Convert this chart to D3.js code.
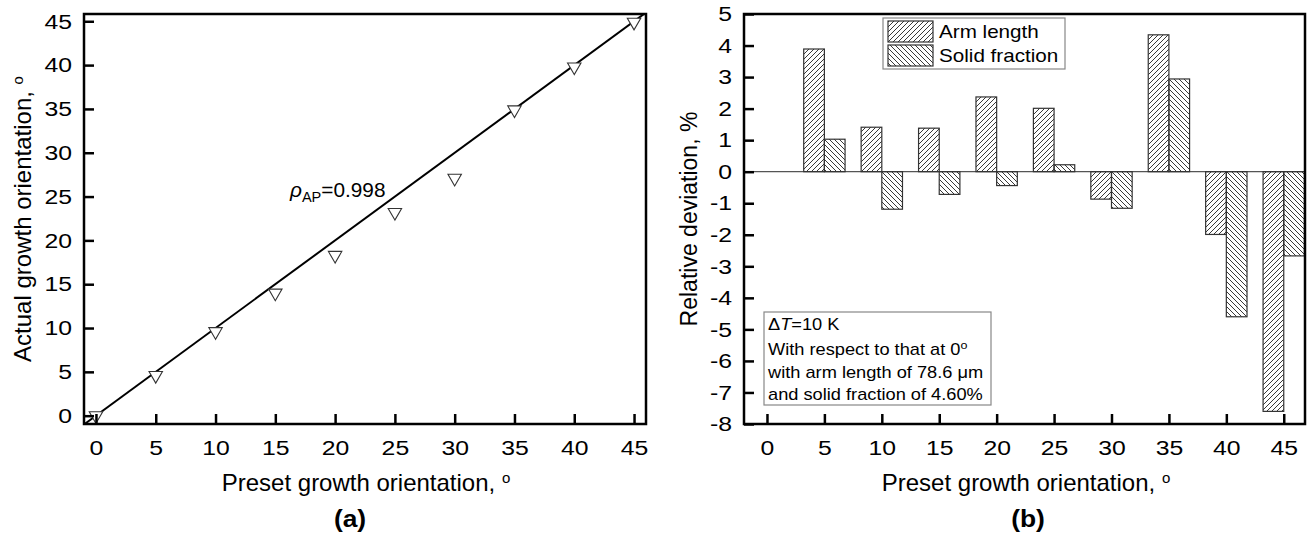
<!DOCTYPE html>
<html>
<head>
<meta charset="utf-8">
<script src="https://d3js.org/d3.v7.min.js"></script>
<style>
  body { margin: 0; background: #fff; }
  svg { display: block; font-family: "Liberation Sans", Arial, sans-serif; }
</style>
</head>
<body>
<svg id="chart" width="1309" height="537"></svg>
<script>
// ── Daten (a): eingestellte vs. tatsächliche Wachstumsorientierung ──
const presetA = [0, 5, 10, 15, 20, 25, 30, 35, 40, 45];
const actualA = [0, 4.6, 9.6, 14.0, 18.3, 23.2, 27.1, 34.9, 39.8, 44.9];
const fitX = [-1, 46];
const fitY = [-1, 46];

// ── Daten (b): relative Abweichung ──
const presetB  = [0, 5, 10, 15, 20, 25, 30, 35, 40, 45];
const armLen   = [0, 3.89, 1.41, 1.38, 2.37, 2.01, -0.87, 4.34, -1.99, -7.6];
const solidFr  = [0, 1.03, -1.19, -0.72, -0.44, 0.22, -1.16, 2.94, -4.6, -2.67];
const seriesB  = ['Arm length', 'Solid fraction'];

const ticksA  = [0, 5, 10, 15, 20, 25, 30, 35, 40, 45];
const ticksBy = [5, 4, 3, 2, 1, 0, -1, -2, -3, -4, -5, -6, -7, -8];

const svg = d3.select('#chart');
const FONT = 21;
const SX = 1.18;   // Originalschrift ist etwas breiter

const defs = svg.append('defs');
function hatch(id, d) {
  defs.append('pattern')
    .attr('id', id).attr('patternUnits', 'userSpaceOnUse')
    .attr('width', 5).attr('height', 5)
    .append('path').attr('d', d)
    .attr('stroke', '#222').attr('stroke-width', 0.9).attr('fill', 'none');
}
hatch('fwd', 'M0,5L5,0M-1,1L1,-1M4,6L6,4');
hatch('back', 'M0,0L5,5M-1,4L1,6M4,-1L6,1');

// Text horizontal strecken (x/y -> transform)
function stretch(sel, sx) {
  sel.each(function() {
    const t = d3.select(this);
    const x = +t.attr('x') || 0, y = +t.attr('y') || 0;
    t.attr('x', null).attr('y', null)
      .attr('transform', `translate(${x},${y}) scale(${sx},1)`);
  });
  return sel;
}

function label(x, y, size, txt) {
  const t = svg.append('text').attr('x', x).attr('y', y).attr('font-size', size);
  if (txt) t.text(txt);
  return t;
}

// ── Achsen-Helfer ───────────────────────────────────
function drawAxes(g, x, y, xMajor, xMinor, yMajor, yMinor, pw, ph) {
  const ax = g.append('g').attr('transform', `translate(0,${ph})`);
  ax.call(d3.axisBottom(x).tickValues(xMinor).tickSize(-5).tickFormat(''));
  ax.call(d3.axisBottom(x).tickValues(xMajor).tickSize(-10).tickPadding(16));
  const ay = g.append('g');
  ay.call(d3.axisLeft(y).tickValues(yMinor).tickSize(-5).tickFormat(''));
  ay.call(d3.axisLeft(y).tickValues(yMajor).tickSize(-10).tickPadding(12)
    .tickFormat(d => String(d)));
  [ax, ay].forEach(a => {
    a.selectAll('.domain').remove();
    a.selectAll('line').attr('stroke', '#000').attr('stroke-width', 2.5);
    const tx = a.selectAll('text').attr('font-size', FONT).attr('fill', '#000')
      .attr('font-family', '"Liberation Sans", Arial, sans-serif');
    stretch(tx, SX);
  });
  g.append('rect').attr('width', pw).attr('height', ph)
    .attr('fill', 'none').attr('stroke', '#000').attr('stroke-width', 2.5);
}

function degTitle(sel, txt) {
  sel.text(txt);
  sel.append('tspan').attr('dy', '-0.55em').attr('font-size', 15).text('o');
}

// ═════════════════ Panel (a) ═════════════════
{
  const L = 84, T = 14, R = 646, B = 424;
  const pw = R - L, ph = B - T;
  const g = svg.append('g').attr('transform', `translate(${L},${T})`);
  const x = d3.scaleLinear().domain([-1, 46]).range([0, pw]);
  const y = d3.scaleLinear().domain([-0.95, 45.83]).range([ph, 0]);

  defs.append('clipPath').attr('id', 'clipA')
    .append('rect').attr('width', pw).attr('height', ph);

  const line = d3.line().x(d => x(d[0])).y(d => y(d[1]));
  g.append('path')
    .attr('d', line(fitX.map((v, i) => [v, fitY[i]])))
    .attr('clip-path', 'url(#clipA)')
    .attr('stroke', '#000').attr('stroke-width', 2).attr('fill', 'none');

  const tri = d3.symbol().type(d3.symbolTriangle).size(78);
  g.append('g').selectAll('path')
    .data(presetA.map((v, i) => [v, actualA[i]]))
    .join('path')
      .attr('d', tri)
      .attr('transform', d => `translate(${x(d[0])},${y(d[1])}) rotate(180)`)
      .attr('fill', '#fff').attr('stroke', '#333').attr('stroke-width', 1.1);

  drawAxes(g, x, y, ticksA, d3.range(2.5, 46, 5), ticksA, d3.range(2.5, 46, 5), pw, ph);

  // Korrelationskoeffizient
  const t = label(290, 197, 20);
  t.append('tspan').attr('font-style', 'italic').text('ρ');
  t.append('tspan').attr('font-size', 14).attr('dy', 5).text('AP');
  t.append('tspan').attr('dy', -5).text('=0.998');
  stretch(t, 1.04);

  degTitle(label(366, 491, 24).attr('text-anchor', 'middle'), 'Preset growth orientation, ');
  degTitle(svg.append('text').attr('transform', `translate(31,${(T + B) / 2}) rotate(-90)`)
    .attr('text-anchor', 'middle').attr('font-size', 24), 'Actual growth orientation, ');
  stretch(label(350, 527, 24, '(a)').attr('text-anchor', 'middle').attr('font-weight', 'bold'), 1.1);
}

// ═════════════════ Panel (b) ═════════════════
{
  const L = 744, T = 14, R = 1305, B = 424;
  const pw = R - L, ph = B - T;
  const g = svg.append('g').attr('transform', `translate(${L},${T})`);
  const x = d3.scaleLinear().domain([-2, 46.85]).range([0, pw]);
  const y = d3.scaleLinear().domain([-8, 5]).range([ph, 0]);
  const bw = 1.8;

  // Nulllinie
  g.append('line').attr('x1', 0).attr('x2', pw).attr('y1', y(0)).attr('y2', y(0))
    .attr('stroke', '#555').attr('stroke-width', 1.2);

  const bars = [];
  presetB.forEach((p, i) => {
    if (armLen[i] !== 0) bars.push({ x0: p - bw, x1: p, v: armLen[i], pat: 'fwd' });
    if (solidFr[i] !== 0) bars.push({ x0: p, x1: p + bw, v: solidFr[i], pat: 'back' });
  });
  g.append('g').selectAll('rect').data(bars).join('rect')
    .attr('x', d => x(d.x0))
    .attr('width', d => x(d.x1) - x(d.x0))
    .attr('y', d => y(Math.max(0, d.v)))
    .attr('height', d => Math.abs(y(d.v) - y(0)))
    .attr('fill', d => `url(#${d.pat})`)
    .attr('stroke', '#333').attr('stroke-width', 1.2);

  drawAxes(g, x, y, ticksA, d3.range(2.5, 46, 5), ticksBy, d3.range(-7.5, 5, 1), pw, ph);

  // Legende
  const lg = svg.append('g');
  lg.append('rect').attr('x', 883).attr('y', 18).attr('width', 182).attr('height', 51)
    .attr('fill', '#fff').attr('stroke', '#888').attr('stroke-width', 1.2);
  seriesB.forEach((s, i) => {
    lg.append('rect').attr('x', 888).attr('y', 21 + i * 24).attr('width', 45).attr('height', 21)
      .attr('fill', `url(#${i === 0 ? 'fwd' : 'back'})`).attr('stroke', '#333').attr('stroke-width', 1.2);
    stretch(lg.append('text').attr('x', 939).attr('y', 38 + i * 24).attr('font-size', 17.5).text(s), SX);
  });

  // Hinweisbox
  const nb = svg.append('g');
  nb.append('rect').attr('x', 764).attr('y', 312).attr('width', 227).attr('height', 93)
    .attr('fill', '#fff').attr('stroke', '#888').attr('stroke-width', 1.2);
  const t1 = nb.append('text').attr('x', 768).attr('y', 330).attr('font-size', 16);
  t1.append('tspan').text('Δ');
  t1.append('tspan').attr('font-style', 'italic').text('T');
  t1.append('tspan').text('=10 K');
  const t2 = nb.append('text').attr('x', 768).attr('y', 355).attr('font-size', 16)
    .text('With respect to that at 0');
  t2.append('tspan').attr('dy', -6).attr('font-size', 11).text('o');
  const t3 = nb.append('text').attr('x', 768).attr('y', 378).attr('font-size', 16).text('with arm length of 78.6 μm');
  const t4 = nb.append('text').attr('x', 768).attr('y', 400).attr('font-size', 16).text('and solid fraction of 4.60%');
  [t1, t2, t3, t4].forEach(t => stretch(t, 1.14));

  degTitle(label(1026, 491, 24).attr('text-anchor', 'middle'), 'Preset growth orientation, ');
  svg.append('text').attr('transform', `translate(697,${(T + B) / 2}) rotate(-90)`)
    .attr('text-anchor', 'middle').attr('font-size', 23).text('Relative deviation, %');
  stretch(label(1028, 527, 24, '(b)').attr('text-anchor', 'middle').attr('font-weight', 'bold'), 1.1);
}
</script>
</body>
</html>
